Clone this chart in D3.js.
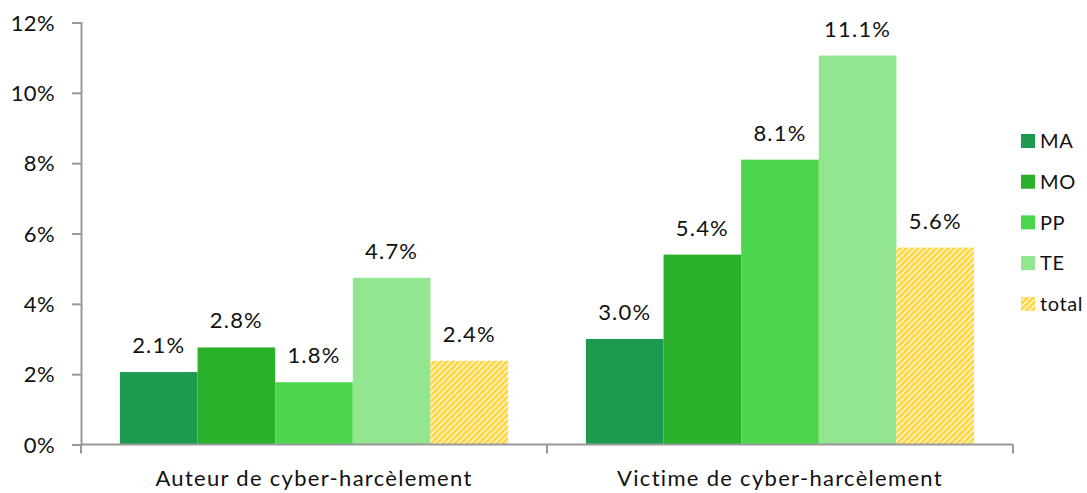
<!DOCTYPE html>
<html>
<head>
<meta charset="utf-8">
<script src="https://cdn.jsdelivr.net/npm/d3@7"></script>
<style>
  body { margin: 0; background: #fff; }
  text { font-family: Lato, "Open Sans", sans-serif; fill: #111; }
</style>
</head>
<body>
<div id="chart"></div>
<script>
// data (percent)
const categories = ["Auteur de cyber-harcèlement", "Victime de cyber-harcèlement"];
const series = ["MA", "MO", "PP", "TE", "total"];
const auteur = [2.06, 2.76, 1.77, 4.74, 2.38];
const victime = [3.0, 5.4, 8.1, 11.06, 5.6];
const yTicks = [0, 2, 4, 6, 8, 10, 12];

const colors = ["#1e9a50", "#2ab02a", "#4cd64c", "#93e690", "url(#hatch)"];

const width = 1087, height = 493;
const margin = { top: 22.5, right: 74, bottom: 48.5, left: 81 };
const innerW = width - margin.left - margin.right;
const innerH = height - margin.top - margin.bottom;

const data = categories.map((c, i) => ({
    cat: c,
    values: series.map((s, j) => ({ key: s, value: (i === 0 ? auteur : victime)[j] }))
}));

const svg = d3.select("#chart")
    .append("svg")
    .attr("width", width)
    .attr("height", height);

// hatch pattern for "total"
const pat = svg.append("defs").append("pattern")
    .attr("id", "hatch")
    .attr("patternUnits", "userSpaceOnUse")
    .attr("width", 6)
    .attr("height", 6);
pat.append("rect").attr("width", 6).attr("height", 6).attr("fill", "#fff");
pat.append("path")
    .attr("d", "M-1,1 l2,-2 M0,6 l6,-6 M5,7 l2,-2")
    .attr("stroke", "#ffd640")
    .attr("stroke-width", 3.1);

const g = svg.append("g")
    .attr("transform", `translate(${margin.left},${margin.top})`);

const x0 = d3.scaleBand()
    .domain(categories)
    .range([0, innerW])
    .paddingInner(0.167)
    .paddingOuter(0.0835);

const x1 = d3.scaleBand()
    .domain(series)
    .range([0, x0.bandwidth()]);

const y = d3.scaleLinear()
    .domain([0, 12])
    .range([innerH, 0]);

// y axis
const yAxis = g.append("g")
    .call(d3.axisLeft(y).tickValues(yTicks).tickSize(9).tickPadding(17).tickFormat(d => d + "%"));
yAxis.selectAll("text")
    .style("font-size", "22px")
    .style("letter-spacing", "0.4px")
    .attr("dy", "0.35em");

// bars
const groups = g.selectAll(".grp")
    .data(data)
    .enter().append("g")
    .attr("class", "grp")
    .attr("transform", d => `translate(${x0(d.cat)},0)`);

groups.selectAll("rect")
    .data(d => d.values)
    .enter().append("rect")
    .attr("x", d => x1(d.key))
    .attr("width", x1.bandwidth())
    .attr("y", d => y(d.value))
    .attr("height", d => innerH - y(d.value))
    .attr("fill", (d, i) => colors[i]);

groups.selectAll(".lbl")
    .data(d => d.values)
    .enter().append("text")
    .attr("class", "lbl")
    .attr("x", d => x1(d.key) + x1.bandwidth() / 2)
    .attr("y", d => y(d.value) - 19)
    .attr("text-anchor", "middle")
    .style("font-size", "22px")
    .style("letter-spacing", "1.2px")
    .text(d => d.value.toFixed(1) + "%");

// x axis
const xAxis = g.append("g")
    .attr("transform", `translate(0,${innerH})`);
xAxis.append("line")
    .attr("x1", 0).attr("x2", innerW)
    .attr("stroke", "#999").attr("stroke-width", 2);
xAxis.selectAll(".xt")
    .data([0, innerW / 2, innerW])
    .enter().append("line")
    .attr("x1", d => d).attr("x2", d => d)
    .attr("y1", 0).attr("y2", 9)
    .attr("stroke", "#999").attr("stroke-width", 2);
xAxis.selectAll(".xl")
    .data(categories)
    .enter().append("text")
    .attr("x", d => x0(d) + x0.bandwidth() / 2)
    .attr("y", 41)
    .attr("text-anchor", "middle")
    .style("font-size", "22px")
    .style("letter-spacing", "1.3px")
    .text(d => d);

yAxis.select(".domain").attr("stroke", "#999").attr("stroke-width", 2);
yAxis.selectAll(".tick line").attr("stroke", "#999").attr("stroke-width", 2);

// legend
const legend = svg.append("g")
    .attr("transform", "translate(1021,141)");
const items = legend.selectAll("g")
    .data(series)
    .enter().append("g")
    .attr("transform", (d, i) => `translate(0,${i * 40.7})`);
items.append("rect")
    .attr("y", -7)
    .attr("width", 14)
    .attr("height", 14)
    .attr("fill", (d, i) => colors[i]);
items.append("text")
    .attr("x", 19)
    .attr("dy", "0.36em")
    .style("font-size", "20px")
    .style("letter-spacing", "0.6px")
    .text(d => d);
</script>
</body>
</html>
